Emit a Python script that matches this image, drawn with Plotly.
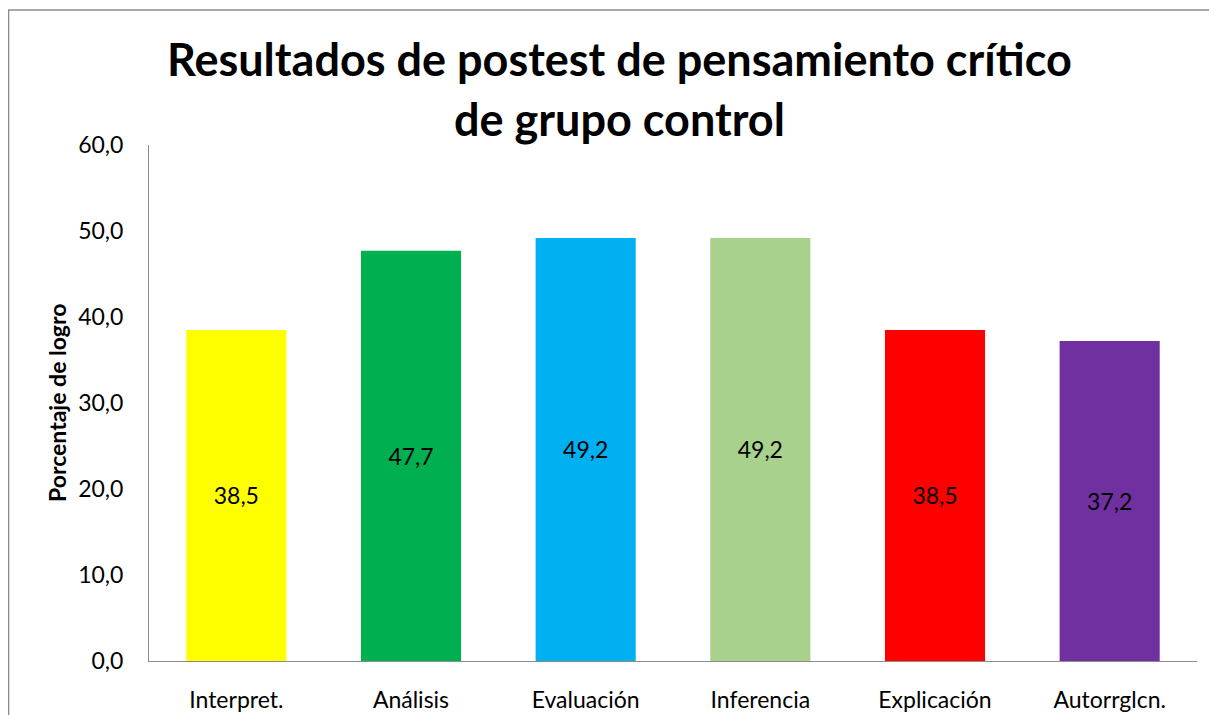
import plotly.graph_objects as go

categories = ["Interpret.", "Análisis", "Evaluación", "Inferencia", "Explicación", "Autorrglcn."]
values = [38.5, 47.7, 49.2, 49.2, 38.5, 37.2]
colors = ["#FFFF00", "#00B050", "#00B0F0", "#A9D18E", "#FF0000", "#7030A0"]
y_ticks = [0, 10, 20, 30, 40, 50, 60]
title_lines = ["Resultados de postest de pensamiento crítico", "de grupo control"]
y_title = "Porcentaje de logro"

FONT = "Lato"

fig = go.Figure()
fig.add_trace(go.Bar(
    x=categories, y=values,
    marker=dict(color=colors, line=dict(width=0)),
    texttemplate="%{y:.1f}", textposition="inside", insidetextanchor="middle",
    textfont=dict(family=FONT, size=23, color="black"),
    textangle=0,
))

fig.update_layout(
    width=1209, height=707,
    separators=",.",
    paper_bgcolor="white", plot_bgcolor="white",
    margin=dict(l=141, r=20, t=137, b=54),
    bargap=0.427,
    showlegend=False,
    font=dict(family=FONT, size=23, color="black"),
)
fig.update_yaxes(
    range=[0, 60], tickvals=y_ticks, tickformat=".1f",
    showgrid=False, zeroline=False, showline=True, linecolor="#8c8c8c", linewidth=1,
    ticks="", ticklabelstandoff=20, automargin=False,
    tickfont=dict(family=FONT, size=23, color="black"),
)
fig.update_xaxes(
    showgrid=False, showline=True, linecolor="#8c8c8c", linewidth=1,
    ticks="", ticklabelstandoff=18, automargin=False,
    tickfont=dict(family=FONT, size=23, color="black"),
)
for txt, yp in zip(title_lines, [1.1667, 1.0504]):
    fig.add_annotation(text=f"<b>{txt}</b>", xref="paper", yref="paper",
                       x=0.4485, y=yp, xanchor="center", yanchor="middle",
                       showarrow=False, font=dict(family=FONT, size=45, color="black"))
fig.add_annotation(text=f"<b>{y_title}</b>", xref="paper", yref="paper",
                   x=-0.0878, y=0.5, xanchor="center", yanchor="middle", textangle=-90,
                   showarrow=False, font=dict(family=FONT, size=23, color="black"))
fig.add_shape(type="rect", xref="paper", yref="paper",
              x0=-0.134, x1=1.2, y0=-0.3, y1=1.2616,
              line=dict(color="#8c8c8c", width=1.5), fillcolor="rgba(0,0,0,0)", layer="below")

fig.write_html("out.html")
